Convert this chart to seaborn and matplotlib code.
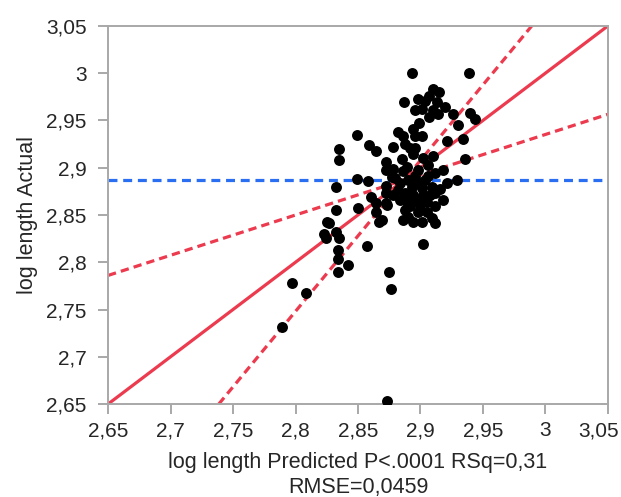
import matplotlib
matplotlib.use('Agg')
import matplotlib.pyplot as plt
import matplotlib.transforms as mtransforms
import seaborn as sns
import pandas as pd

# log length predicted / actual
pred = [2.893, 2.939, 2.910, 2.915, 2.907, 2.898, 2.887, 2.904, 2.913, 2.920,
        2.896, 2.901, 2.910, 2.907, 2.914, 2.926, 2.940, 2.944, 2.930, 2.899,
        2.894, 2.882, 2.849, 2.886, 2.896, 2.901, 2.921, 2.934, 2.835, 2.859,
        2.864, 2.878, 2.888, 2.892, 2.896, 2.894, 2.910, 2.936, 2.835, 2.872,
        2.885, 2.902, 2.872, 2.878, 2.889, 2.906, 2.918, 2.912, 2.849, 2.858,
        2.877, 2.929, 2.832, 2.872, 2.921, 2.886, 2.890, 2.897, 2.904, 2.884,
        2.893, 2.901, 2.909, 2.872, 2.878, 2.888, 2.894, 2.902, 2.912, 2.918,
        2.860, 2.872, 2.889, 2.897, 2.905, 2.912, 2.892, 2.898, 2.832, 2.850,
        2.864, 2.873, 2.864, 2.890, 2.886, 2.894, 2.901, 2.909, 2.912, 2.869,
        2.867, 2.825, 2.827, 2.823, 2.824, 2.832, 2.835, 2.834, 2.857, 2.902,
        2.834, 2.842, 2.834, 2.875, 2.797, 2.808, 2.876, 2.789, 2.873, 2.882,
        2.896, 2.900, 2.908, 2.880, 2.888, 2.905, 2.916, 2.884, 2.898, 2.906]
actual = [3.000, 3.000, 2.983, 2.980, 2.976, 2.973, 2.969, 2.971, 2.969, 2.964,
          2.961, 2.962, 2.961, 2.954, 2.957, 2.957, 2.958, 2.951, 2.945, 2.947,
          2.941, 2.938, 2.935, 2.933, 2.933, 2.933, 2.928, 2.930, 2.920, 2.924,
          2.918, 2.922, 2.925, 2.921, 2.921, 2.914, 2.912, 2.909, 2.908, 2.906,
          2.909, 2.910, 2.898, 2.899, 2.901, 2.903, 2.898, 2.894, 2.888, 2.886,
          2.890, 2.887, 2.880, 2.881, 2.884, 2.896, 2.887, 2.885, 2.887, 2.884,
          2.880, 2.879, 2.880, 2.873, 2.871, 2.873, 2.871, 2.871, 2.873, 2.866,
          2.869, 2.863, 2.864, 2.866, 2.864, 2.859, 2.859, 2.853, 2.855, 2.857,
          2.863, 2.860, 2.853, 2.848, 2.845, 2.843, 2.843, 2.847, 2.842, 2.845,
          2.843, 2.843, 2.841, 2.830, 2.826, 2.832, 2.826, 2.813, 2.817, 2.819,
          2.803, 2.797, 2.790, 2.790, 2.778, 2.767, 2.772, 2.732, 2.653, 2.876,
          2.891, 2.861, 2.871, 2.889, 2.855, 2.853, 2.877, 2.866, 2.898, 2.891]

mean_actual = 2.887
mean_pred = 2.887
fit_slope = 1.0
upper_slope = 1.597   # confidence curve, steep branch
lower_slope = 0.426   # confidence curve, shallow branch

ticks = [2.65, 2.7, 2.75, 2.8, 2.85, 2.9, 2.95, 3.0, 3.05]
tick_labels = ['2,65', '2,7', '2,75', '2,8', '2,85', '2,9', '2,95', '3', '3,05']

df = pd.DataFrame({'pred': pred, 'actual': actual})

sns.set_style('white')
plt.rcParams['font.family'] = ['Liberation Sans', 'DejaVu Sans']

red = '#ec3a4e'
blue = '#2a6ef2'
grey = '#a8a8a8'

fig, ax = plt.subplots(figsize=(6.21, 4.97), dpi=100)
fig.subplots_adjust(left=0.174, right=0.979, top=0.948, bottom=0.187)

ax.axhline(mean_actual, color=blue, lw=2.3, dashes=(2.8, 1.8), zorder=1)
ax.axline((mean_pred, mean_actual), slope=fit_slope, color=red, lw=2.3, zorder=2)
ax.axline((mean_pred, mean_actual), slope=upper_slope, color=red, lw=2.3,
          dashes=(2.6, 1.6), zorder=2)
ax.axline((mean_pred, mean_actual), slope=lower_slope, color=red, lw=2.3,
          dashes=(2.6, 1.6), zorder=2)

sns.scatterplot(data=df, x='pred', y='actual', ax=ax, color='black', s=62,
                linewidth=0, zorder=3)

ax.set_xlim(2.65, 3.05)
ax.set_ylim(2.65, 3.05)
ax.set_xticks(ticks)
ax.set_xticklabels(tick_labels)
ax.set_yticks(ticks)
ax.set_yticklabels(tick_labels)
ax.tick_params(direction='out', length=7.5, width=1.4, color=grey,
               labelsize=15, bottom=True, left=True)
ax.tick_params(axis='x', pad=5)
ax.tick_params(axis='y', pad=8)
for s in ax.spines.values():
    s.set_color(grey)
    s.set_linewidth(1.4)

# last x label pulled inside the figure, like the original
last = ax.get_xticklabels()[-1]
last.set_horizontalalignment('right')
last.set_transform(last.get_transform() +
                   mtransforms.ScaledTranslation(8 / 72, 0, fig.dpi_scale_trans))

ax.set_xlabel('log length Predicted P<.0001 RSq=0,31\nRMSE=0,0459', fontsize=15.5,
              linespacing=1.3, labelpad=8)
ax.set_ylabel('log length Actual', fontsize=15.5, labelpad=6)

plt.savefig('out.png', dpi=100)
